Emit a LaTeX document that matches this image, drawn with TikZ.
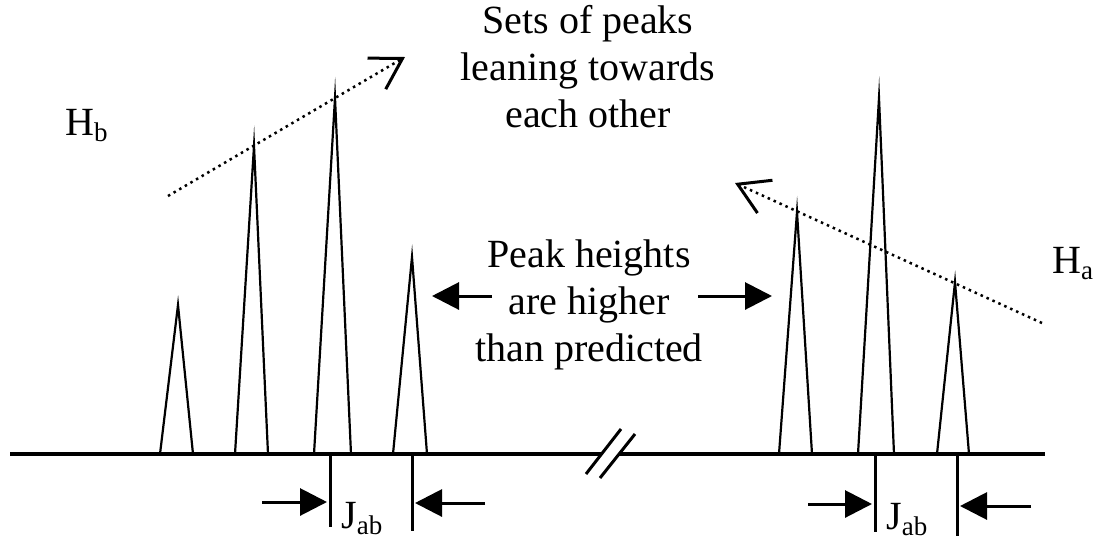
\documentclass[tikz,border=0pt]{standalone}
\usepackage{fontspec}
\setmainfont{Liberation Serif}
\usetikzlibrary{arrows.meta}
\newcommand{\lowsub}[1]{\raisebox{-6pt}{\fontsize{27}{27}\selectfont #1}}
\begin{document}
\begin{tikzpicture}[x=1pt,y=-1pt,
  peak/.style={line width=2.2pt,line join=miter,miter limit=30},
  axis/.style={line width=3.5pt},
  tick/.style={line width=3pt},
  fatarrow/.style={line width=3pt,-{Triangle[length=27pt,width=27pt]}},
  lean/.style={line width=2.5pt,dash pattern=on 2.5pt off 4pt,-{Straight Barb[length=30pt,width=36pt,line width=3pt]}},
  lbl/.style={font=\fontsize{40}{47}\selectfont,inner sep=0pt,align=center},
]
\useasboundingbox (0,0) rectangle (1098,542);

% axis with break
\coordinate (a0) at (10,454);
\coordinate (a1) at (602,454);
\coordinate (a2) at (619,454);
\coordinate (a3) at (1045,454);
\draw[axis] (a0) -- (a1);
\draw[axis] (a2) -- (a3);
\coordinate (s1a) at (586,474); \coordinate (s1b) at (621,429);
\coordinate (s2a) at (600,478); \coordinate (s2b) at (635,434);
\draw[tick] (s1a) -- (s1b);
\draw[tick] (s2a) -- (s2b);

% H_b peaks
\coordinate (p1) at (178,305);
\coordinate (p2) at (254,146);
\coordinate (p3) at (335,98);
\coordinate (p4) at (412,257);
\draw[peak] (160,454) -- (p1) -- (193,454);
\draw[peak] (235,454) -- (p2) -- (268,454);
\draw[peak] (314,454) -- (p3) -- (351,454);
\draw[peak] (393,454) -- (p4) -- (427,454);

% H_a peaks
\coordinate (q1) at (797,212);
\coordinate (q2) at (879,98);
\coordinate (q3) at (955,282);
\draw[peak] (779,454) -- (q1) -- (812,454);
\draw[peak] (858,454) -- (q2) -- (894,454);
\draw[peak] (937,454) -- (q3) -- (969,454);

% leaning lines
\coordinate (lb0) at (168,196);
\coordinate (lb1) at (405,57);
\coordinate (la0) at (1042,323);
\coordinate (la1) at (735,183);
\draw[lean] (lb0) -- (lb1);
\draw[lean] (la0) -- (la1);

% J ticks
\coordinate (t1) at (330,527);
\coordinate (t2) at (412,531);
\coordinate (t3) at (875,532);
\coordinate (t4) at (957,536);
\draw[tick] (330,454) -- (t1);
\draw[tick] (412,454) -- (t2);
\draw[tick] (875,454) -- (t3);
\draw[tick] (957,454) -- (t4);

% J arrows
\coordinate (j1s) at (262,502); \coordinate (j1e) at (327,502);
\coordinate (j2s) at (485,503); \coordinate (j2e) at (415,503);
\coordinate (j3s) at (808,504); \coordinate (j3e) at (872,504);
\coordinate (j4s) at (1031,506); \coordinate (j4e) at (960,506);
\draw[fatarrow] (j1s) -- (j1e);
\draw[fatarrow] (j2s) -- (j2e);
\draw[fatarrow] (j3s) -- (j3e);
\draw[fatarrow] (j4s) -- (j4e);

% labels
\node[lbl,anchor=base west] (Hb) at (65,135) {H\lowsub{b}};
\node[lbl,anchor=base west] (Ha) at (1052,273) {H\lowsub{a}};
\node[lbl,anchor=base west] (J1) at (341,528) {J\lowsub{ab}};
\node[lbl,anchor=base west] (J2) at (886,529) {J\lowsub{ab}};
\node[lbl] (sets) at (588,67) {Sets of peaks\\leaning towards\\each other};
\node[lbl] (peakh) at (589,305) {Peak heights\\are higher\\than predicted};

% peak-height arrows
\coordinate (ph1) at (432,296);
\coordinate (ph2) at (772,296);
\draw[fatarrow] (492,296) -- (ph1);
\draw[fatarrow] (698,296) -- (ph2);
\end{tikzpicture}
\end{document}
